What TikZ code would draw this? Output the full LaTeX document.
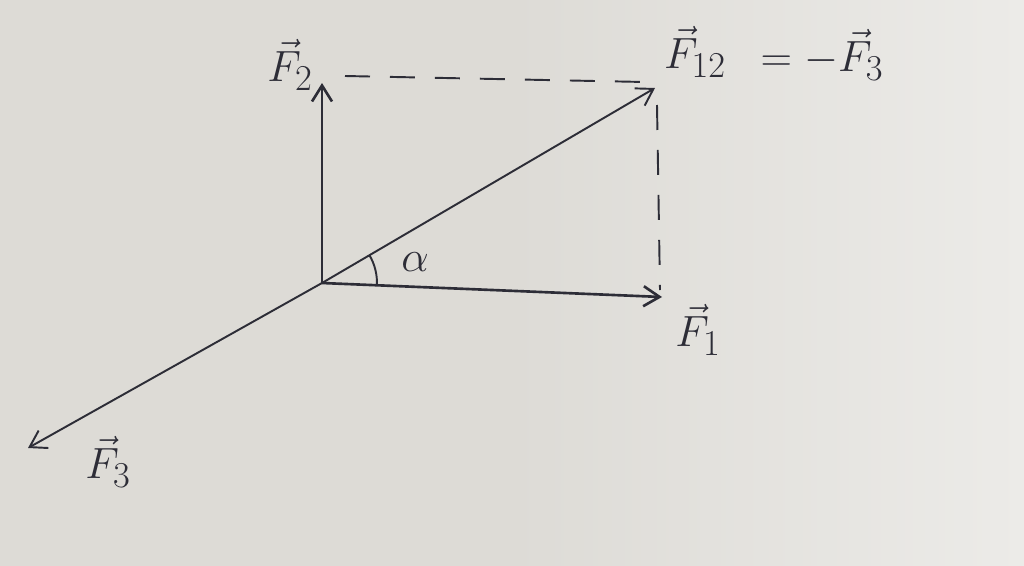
\documentclass[tikz,border=0pt]{standalone}
\usetikzlibrary{arrows.meta,angles,calc}
\definecolor{paper}{RGB}{221,219,214}
\definecolor{paperlight}{RGB}{236,235,232}
\definecolor{ink}{RGB}{45,45,55}
\begin{document}
\begin{tikzpicture}[x=0.02cm,y=-0.02cm,
  vec/.style={draw=ink,line width=1.5pt,-{Straight Barb[length=3.2mm,width=4mm]}},
  thinvec/.style={draw=ink,line width=1.1pt,-{Straight Barb[length=3.2mm,width=4mm]}},
  guide/.style={draw=ink,line width=1.1pt,dash pattern=on 5mm off 4mm},
  lbl/.style={text=ink,font=\fontsize{30}{36}\selectfont}]
\shade[left color=paper,right color=paperlight,middle color=paper] (0,0) rectangle (1024,565);
\useasboundingbox (0,0) rectangle (1024,565);
\coordinate (O) at (322,283);
\coordinate (F2tip) at (322,83);
\coordinate (F1tip) at (662,297);
\coordinate (F12tip) at (655,88);
\coordinate (F3tip) at (28,448);
\coordinate (d1) at (345,76);
\coordinate (d2) at (645,82);
\coordinate (d3) at (657,105);
\coordinate (d4) at (660,290);
\draw[guide] (d1) -- (d2);
\draw[guide] (d3) -- (d4);
\draw[vec] (O) -- (F2tip);
\draw[vec] (O) -- (F1tip);
\draw[thinvec] (O) -- (F12tip);
\draw[thinvec] (O) -- (F3tip);
\pic[draw=ink,line width=1.1pt,angle radius=1.1cm] {angle = F1tip--O--F12tip};
\node[lbl] (alpha) at (415,262) {$\alpha$};
\node[lbl] (lF2) at (290,65) {$\vec{F}_{2}$};
\node[lbl] (lF12) at (695,52) {$\vec{F}_{12}$};
\node[lbl] (leq) at (822,55) {$=-\vec{F}_{3}$};
\node[lbl] (lF1) at (698,330) {$\vec{F}_{1}$};
\node[lbl] (lF3) at (108,462) {$\vec{F}_{3}$};
\end{tikzpicture}
\end{document}
